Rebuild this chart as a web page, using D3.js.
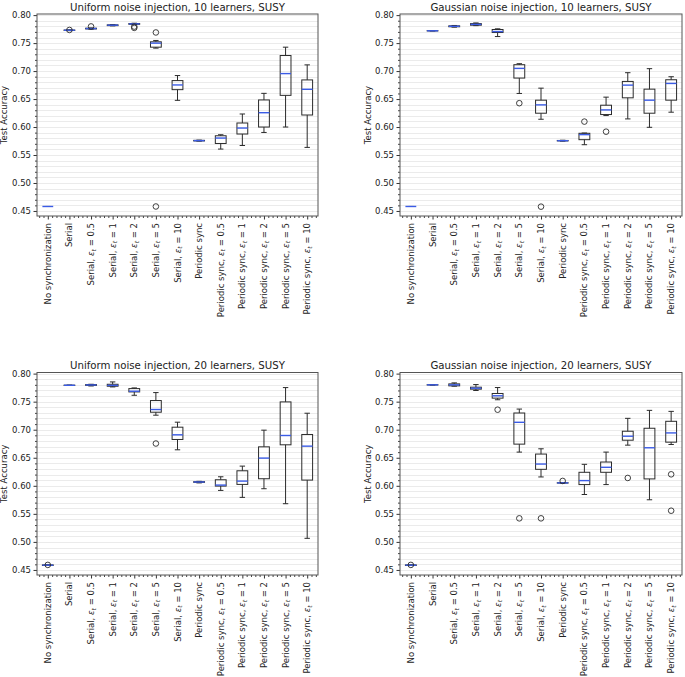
<!DOCTYPE html>
<html><head><meta charset="utf-8">
<script src="https://cdn.jsdelivr.net/npm/d3@7"></script>
<style>body{margin:0;background:#fff}svg{display:block}text{font-family:"DejaVu Sans",sans-serif;fill:#222}</style>
</head><body><svg id="c" width="685" height="677"></svg>
<script>
// Categories (label base, epsilon value or null)
const categories = [
  ["No synchronization", null], ["Serial", null], ["Serial", "0.5"], ["Serial", "1"], ["Serial", "2"],
  ["Serial", "5"], ["Serial", "10"], ["Periodic sync", null], ["Periodic sync", "0.5"], ["Periodic sync", "1"],
  ["Periodic sync", "2"], ["Periodic sync", "5"], ["Periodic sync", "10"]
];
const yTicks = [0.45, 0.50, 0.55, 0.60, 0.65, 0.70, 0.75, 0.80];
const titles = [
  "Uniform noise injection, 10 learners, SUSY",
  "Gaussian noise injection, 10 learners, SUSY",
  "Uniform noise injection, 20 learners, SUSY",
  "Gaussian noise injection, 20 learners, SUSY"
];
// [whisker low, q1, median, q3, whisker high]
const uni10Stats = [
  [0.458,0.458,0.458,0.458,0.458],[0.7722,0.7727,0.773,0.7733,0.7737],[0.7748,0.7753,0.776,0.7766,0.777],
  [0.7808,0.7812,0.782,0.7826,0.783],[0.7832,0.7836,0.7843,0.785,0.7855],[0.741,0.7427,0.7499,0.7523,0.7547],
  [0.6477,0.6668,0.6752,0.683,0.692],[0.5748,0.5752,0.5757,0.5762,0.5766],[0.5606,0.5706,0.5803,0.5844,0.5862],
  [0.567,0.5875,0.5982,0.6072,0.6233],[0.5903,0.600,0.6256,0.6484,0.6602],[0.600,0.6566,0.6955,0.7278,0.7427],
  [0.5636,0.6215,0.6674,0.6842,0.7111]
];
const uni10Out = [[],[0.7735],[0.7798],[],[0.7772,0.7795],[0.769,0.458],[],[],[],[],[],[],[]];
const gau10Stats = [
  [0.458,0.458,0.458,0.458,0.458],[0.7716,0.7718,0.772,0.7722,0.7724],[0.7785,0.7792,0.780,0.7808,0.7815],
  [0.7812,0.782,0.7834,0.7848,0.786],[0.7617,0.7689,0.7707,0.7743,0.7755],[0.660,0.6875,0.7048,0.7114,0.7132],
  [0.6139,0.6247,0.6396,0.648,0.6695],[0.5748,0.5752,0.5756,0.576,0.5764],[0.5684,0.5774,0.5864,0.5888,0.5893],
  [0.6205,0.6223,0.6306,0.639,0.6534],[0.6145,0.6522,0.6749,0.6815,0.6971],[0.5995,0.6247,0.648,0.6677,0.7043],
  [0.6265,0.648,0.6779,0.6845,0.6899]
];
const gau10Out = [[],[],[],[],[],[0.6426],[0.4577],[],[0.6097],[0.5917],[],[],[]];
const uni20Stats = [
  [0.458,0.458,0.4585,0.459,0.459],[0.7788,0.779,0.7792,0.7794,0.7796],[0.778,0.779,0.7798,0.7805,0.781],
  [0.7763,0.7775,0.779,0.781,0.7852],[0.7614,0.7674,0.7686,0.7733,0.7745],[0.7259,0.7312,0.736,0.752,0.7662],
  [0.6642,0.6826,0.6909,0.7045,0.7134],[0.6052,0.6062,0.6068,0.6074,0.608],[0.5918,0.5995,0.6013,0.6108,0.6161],
  [0.5794,0.6025,0.6084,0.6268,0.6351],[0.5948,0.6126,0.6494,0.6695,0.6992],[0.5681,0.6731,0.6897,0.7496,0.7751],
  [0.5064,0.6102,0.6707,0.6915,0.7294]
];
const uni20Out = [[0.459],[],[],[],[],[0.6754],[],[],[],[],[],[],[]];
const gau20Stats = [
  [0.458,0.458,0.4585,0.459,0.459],[0.7796,0.7798,0.780,0.7802,0.7804],[0.7776,0.7782,0.780,0.7817,0.7835],
  [0.7699,0.7723,0.774,0.7758,0.7805],[0.7534,0.7563,0.7605,0.7646,0.7752],[0.6601,0.6743,0.7132,0.7298,0.7368],
  [0.6158,0.6294,0.6388,0.6566,0.666],[0.6046,0.6049,0.6052,0.6055,0.6058],[0.5845,0.6022,0.6093,0.6241,0.6383],
  [0.6022,0.6241,0.633,0.6424,0.6601],[0.6725,0.6813,0.6884,0.6973,0.7203],[0.5751,0.6123,0.6678,0.7026,0.7345],
  [0.6737,0.6778,0.6943,0.715,0.7327]
];
const gau20Out = [[0.459],[],[],[],[0.7357],[0.542],[0.542],[0.6087],[],[],[0.614],[],[0.6205,0.5556]];

const panelStats = [uni10Stats, gau10Stats, uni20Stats, gau20Stats];
const panelOut = [uni10Out, gau10Out, uni20Out, gau20Out];
const layout = [
  {x0:37, x1:318, y0:14, y1:216, lx:7, ty:11},
  {x0:400, x1:682, y0:14, y1:216, lx:371, ty:11},
  {x0:37, x1:318, y0:372.5, y1:575, lx:7, ty:369},
  {x0:400, x1:682, y0:372.5, y1:575, lx:371, ty:369}
];
const medColor = "#3b5ce6", boxColor = "#2b2b2b", spineColor = "#555";
const FS = 8.5;
const svg = d3.select("#c");

layout.forEach((L, pi) => {
  const g = svg.append("g");
  const x = d3.scaleLinear().domain([0.5, categories.length + 0.5]).range([L.x0, L.x1]);
  const y = d3.scaleLinear().domain([0.441, 0.802]).range([L.y1, L.y0]);
  // grid every 0.01
  const grid = d3.range(45, 81).map(v => v / 100);
  g.selectAll(".grid").data(grid).join("line")
    .attr("x1", L.x0).attr("x2", L.x1)
    .attr("y1", d => Math.round(y(d)) + 0.5).attr("y2", d => Math.round(y(d)) + 0.5)
    .attr("stroke", "#ebebeb").attr("stroke-width", 1);
  // y axis
  const ya = d3.axisLeft(y).tickValues(yTicks).tickFormat(d3.format(".2f")).tickSize(3.5).tickPadding(2.5);
  const yag = g.append("g").attr("transform", `translate(${L.x0},0)`).call(ya);
  yag.select(".domain").remove();
  yag.selectAll("text").attr("font-size", FS).attr("fill", "#222").style("font-family", "DejaVu Sans");
  yag.selectAll("line").attr("stroke", "#333");
  const yMinor = d3.axisLeft(y).tickValues(grid.filter(v => Math.round(v*100) % 5 !== 0)).tickSize(2).tickFormat("");
  const ymg = g.append("g").attr("transform", `translate(${L.x0},0)`).call(yMinor);
  ymg.select(".domain").remove(); ymg.selectAll("line").attr("stroke", "#444");
  // x axis
  const xa = d3.axisBottom(x).tickValues(d3.range(1, categories.length + 1)).tickSize(3.5).tickFormat("");
  const xag = g.append("g").attr("transform", `translate(0,${L.y1})`).call(xa);
  xag.select(".domain").remove(); xag.selectAll("line").attr("stroke", "#333");
  const xmin = d3.range(3, 5*categories.length + 3).map(i => i * 0.2).filter(v => Math.abs(v - Math.round(v)) > 1e-6 && v < categories.length + 0.5);
  const xmg = g.append("g").attr("transform", `translate(0,${L.y1})`).call(d3.axisBottom(x).tickValues(xmin).tickSize(2).tickFormat(""));
  xmg.select(".domain").remove(); xmg.selectAll("line").attr("stroke", "#444");
  // x labels
  categories.forEach((c, i) => {
    const t = g.append("text").attr("font-size", FS).attr("text-anchor", "end")
      .attr("transform", `translate(${x(i+1) + 3},${L.y1 + 7}) rotate(-90)`);
    if (c[1] === null) { t.text(c[0]); }
    else {
      t.append("tspan").text(c[0] + ", ");
      t.append("tspan").attr("font-style", "italic").text("ε");
      t.append("tspan").attr("font-style", "italic").attr("font-size", 6).attr("dy", 1.6).text("t");
      t.append("tspan").attr("dy", -1.6).text(" = " + c[1]);
    }
  });
  // title and y label
  g.append("text").attr("x", (L.x0 + L.x1) / 2).attr("y", L.ty).attr("text-anchor", "middle")
    .attr("font-size", 10.2).text(titles[pi]);
  g.append("text").attr("transform", `translate(${L.lx},${(L.y0 + L.y1) / 2}) rotate(-90)`)
    .attr("text-anchor", "middle").attr("font-size", FS).text("Test Accuracy");
  // boxes
  const stats = panelStats[pi], outs = panelOut[pi];
  const bw = x(1.25) - x(1), cw = x(1.125) - x(1);
  stats.forEach((s, i) => {
    const cx = x(i + 1);
    const bg = g.append("g").attr("stroke", boxColor).attr("fill", "none").attr("stroke-width", 1);
    bg.append("line").attr("x1", cx).attr("x2", cx).attr("y1", y(s[0])).attr("y2", y(s[1]));
    bg.append("line").attr("x1", cx).attr("x2", cx).attr("y1", y(s[3])).attr("y2", y(s[4]));
    bg.append("line").attr("x1", cx - cw).attr("x2", cx + cw).attr("y1", y(s[0])).attr("y2", y(s[0]));
    bg.append("line").attr("x1", cx - cw).attr("x2", cx + cw).attr("y1", y(s[4])).attr("y2", y(s[4]));
    bg.append("rect").attr("x", cx - bw).attr("width", 2 * bw)
      .attr("y", y(s[3])).attr("height", Math.max(0, y(s[1]) - y(s[3])));
    g.append("line").attr("x1", cx - bw).attr("x2", cx + bw).attr("y1", y(s[2])).attr("y2", y(s[2]))
      .attr("stroke", medColor).attr("stroke-width", 1.4);
    outs[i].forEach(o => {
      g.append("circle").attr("cx", cx).attr("cy", y(o)).attr("r", 2.8)
        .attr("fill", "none").attr("stroke", boxColor).attr("stroke-width", 0.9);
    });
  });
  // spines
  g.append("rect").attr("x", L.x0).attr("y", L.y0).attr("width", L.x1 - L.x0).attr("height", L.y1 - L.y0)
    .attr("fill", "none").attr("stroke", spineColor).attr("stroke-width", 1);
});
</script></body></html>
